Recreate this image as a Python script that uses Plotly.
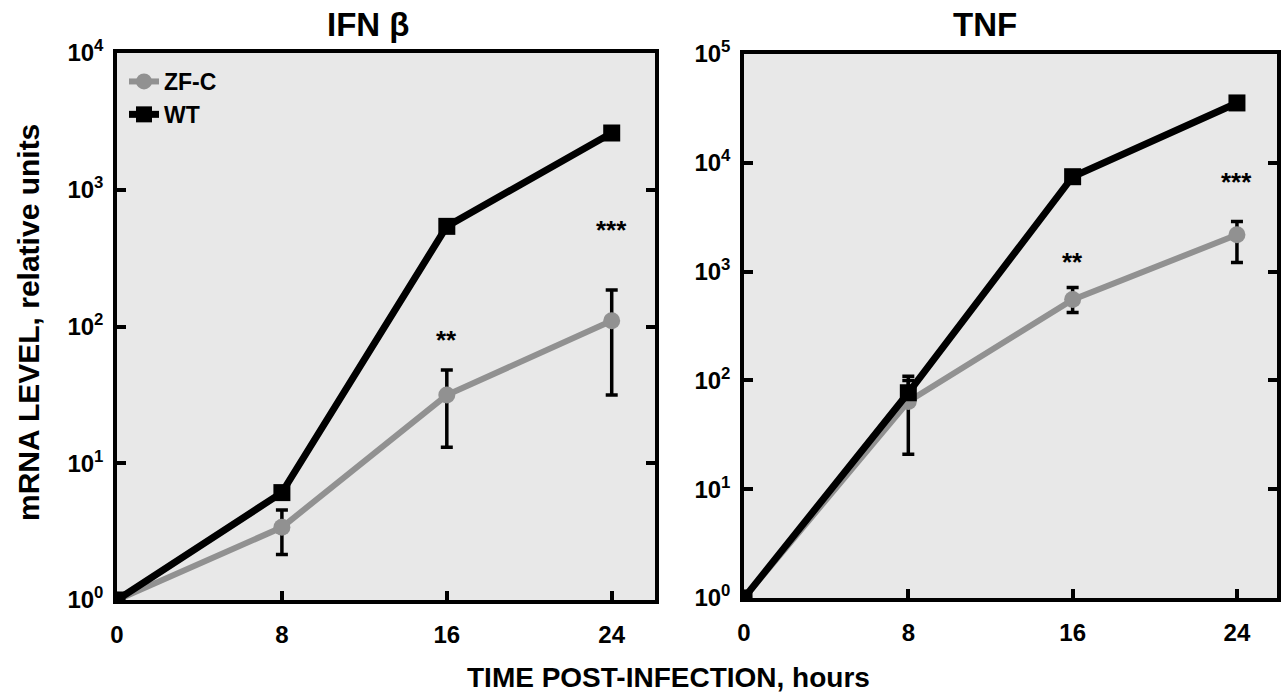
import numpy as np
import plotly.graph_objects as go

# ---------------- data ----------------
hours = [0, 8, 16, 24]

ifn_wt = [1.0, 6.1, 540, 2600]
ifn_zfc = [1.0, 3.4, 31.5, 110]
ifn_zfc_up = [1.0, 4.55, 48, 185]
ifn_zfc_lo = [1.0, 2.15, 13.1, 31.5]

tnf_wt = [1.0, 77, 7450, 35500]
tnf_wt_up = [1.0, 109, 7450, 35500]
tnf_zfc = [1.0, 64, 553, 2180]
tnf_zfc_up = [1.0, 100, 715, 2880]
tnf_zfc_lo = [1.0, 21, 420, 1210]

ifn_stars = [(16, 80, "**"), (24, 510, "***")]
tnf_stars = [(16, 1230, "**"), (24, 6600, "***")]

ifn_ticks = [1, 10, 100, 1000, 10000]
ifn_ticktext = ["10<sup>0</sup>", "10<sup>1</sup>", "10<sup>2</sup>", "10<sup>3</sup>", "10<sup>4</sup>"]
tnf_ticks = [1, 10, 100, 1000, 10000, 100000]
tnf_ticktext = ["10<sup>0</sup>", "10<sup>1</sup>", "10<sup>2</sup>", "10<sup>3</sup>", "10<sup>4</sup>", "10<sup>5</sup>"]
x_ticks = [0, 8, 16, 24]

GRAY = "#919191"
BLACK = "#000000"
BG = "#e8e8e8"
FONT = "Liberation Sans"

W, H = 1283, 698


def up_err(vals, ups):
    return [max(u - v, 0) for v, u in zip(vals, ups)]


def lo_err(vals, los):
    return [max(v - l, 0) for v, l in zip(vals, los)]


def bfont(size):
    return dict(family=FONT, size=size, color=BLACK, weight="bold")


fig = go.Figure()

# ---------- left panel: IFN beta ----------
fig.add_trace(go.Scatter(
    x=hours, y=ifn_zfc, name="ZF-C", mode="lines+markers",
    line=dict(color=GRAY, width=6),
    marker=dict(symbol="circle", size=17, color=GRAY),
    error_y=dict(type="data", symmetric=False,
                 array=up_err(ifn_zfc, ifn_zfc_up),
                 arrayminus=lo_err(ifn_zfc, ifn_zfc_lo),
                 color=BLACK, thickness=3.5, width=6),
    xaxis="x", yaxis="y", showlegend=True))
fig.add_trace(go.Scatter(
    x=hours, y=ifn_wt, name="WT", mode="lines+markers",
    line=dict(color=BLACK, width=7),
    marker=dict(symbol="square", size=17, color=BLACK),
    xaxis="x", yaxis="y", showlegend=True))

# ---------- right panel: TNF ----------
fig.add_trace(go.Scatter(
    x=hours, y=tnf_zfc, name="ZF-C", mode="lines+markers",
    line=dict(color=GRAY, width=6),
    marker=dict(symbol="circle", size=17, color=GRAY),
    error_y=dict(type="data", symmetric=False,
                 array=up_err(tnf_zfc, tnf_zfc_up),
                 arrayminus=lo_err(tnf_zfc, tnf_zfc_lo),
                 color=BLACK, thickness=3.5, width=6),
    xaxis="x2", yaxis="y2", showlegend=False))
fig.add_trace(go.Scatter(
    x=hours, y=tnf_wt, name="WT", mode="lines+markers",
    line=dict(color=BLACK, width=7),
    marker=dict(symbol="square", size=17, color=BLACK),
    error_y=dict(type="data", symmetric=False,
                 array=up_err(tnf_wt, tnf_wt_up),
                 arrayminus=[0, 0, 0, 0],
                 color=BLACK, thickness=3.5, width=6),
    xaxis="x2", yaxis="y2", showlegend=False))

# ---------- layout ----------
dom_l = [117 / W, 655 / W]
dom_r = [744 / W, 1277 / W]
dom_yl = [1 - 600 / H, 1 - 53 / H]
dom_yr = [1 - 598 / H, 1 - 54 / H]

tickfont = bfont(24)
common_x = dict(showline=True, linecolor=BLACK, linewidth=3.5, mirror=True,
                ticks="inside", ticklen=9, tickwidth=3.5, tickcolor=BLACK,
                tickvals=x_ticks, ticktext=[str(t) for t in x_ticks],
                tickfont=tickfont, showgrid=False, zeroline=False,
                ticklabelstandoff=10, automargin=False)
common_y = dict(type="log", showline=True, linecolor=BLACK, linewidth=3.5, mirror="ticks",
                ticks="inside", ticklen=9, tickwidth=3.5, tickcolor=BLACK,
                tickfont=tickfont, showgrid=False, zeroline=False,
                ticklabelstandoff=5, automargin=False)

fig.update_layout(
    template="none",
    width=W, height=H,
    margin=dict(l=0, r=0, t=0, b=0, autoexpand=False),
    paper_bgcolor="white", plot_bgcolor=BG,
    font=dict(family=FONT, color=BLACK),
    xaxis=dict(domain=dom_l, range=[0, 26.1], anchor="y", **common_x),
    yaxis=dict(domain=dom_yl, range=[0, 4], anchor="x",
               tickvals=ifn_ticks, ticktext=ifn_ticktext, **common_y),
    xaxis2=dict(domain=dom_r, range=[0, 25.95], anchor="y2", **common_x),
    yaxis2=dict(domain=dom_yr, range=[0, 5], anchor="x2",
                tickvals=tnf_ticks, ticktext=tnf_ticktext, **common_y),
    legend=dict(x=124 / W, y=1 - 60 / H, xanchor="left", yanchor="top",
                bgcolor="rgba(0,0,0,0)", borderwidth=0,
                font=bfont(23),
                tracegroupgap=0, itemwidth=30),
    showlegend=True,
)

annotations = []
for (xv, yv, txt) in ifn_stars:
    annotations.append(dict(x=xv, y=np.log10(yv), xref="x", yref="y", text=txt,
                            xanchor="center", yanchor="middle",
                            showarrow=False, font=bfont(26)))
for (xv, yv, txt) in tnf_stars:
    annotations.append(dict(x=xv, y=np.log10(yv), xref="x2", yref="y2", text=txt,
                            xanchor="center", yanchor="middle",
                            showarrow=False, font=bfont(26)))

annotations += [
    dict(x=368 / W, y=1 - 24 / H, xref="paper", yref="paper", text="IFN β",
         xanchor="center", yanchor="middle",
         showarrow=False, font=bfont(33)),
    dict(x=985 / W, y=1 - 24 / H, xref="paper", yref="paper", text="TNF",
         xanchor="center", yanchor="middle",
         showarrow=False, font=bfont(33)),
    dict(x=28 / W, y=1 - 323 / H, xref="paper", yref="paper",
         text="mRNA LEVEL, relative units", textangle=-90,
         xanchor="center", yanchor="middle",
         showarrow=False, font=bfont(30)),
    dict(x=668 / W, y=1 - 677 / H, xref="paper", yref="paper",
         text="TIME POST-INFECTION, hours",
         xanchor="center", yanchor="middle",
         showarrow=False, font=bfont(28)),
]
fig.update_layout(annotations=annotations)

fig.write_html("out.html")
